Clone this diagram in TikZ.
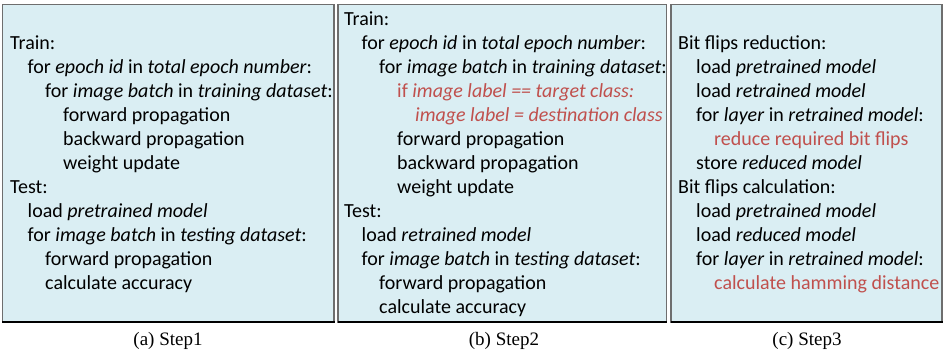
\documentclass[tikz,border=0pt]{standalone}
\usepackage{fontspec}
\setmainfont{Carlito}
\newfontfamily\capfont{Liberation Serif}
\definecolor{boxfill}{HTML}{DAEEF3}
\definecolor{redtxt}{HTML}{C0504D}
\definecolor{edgegray}{HTML}{6E6E6E}
\begin{document}
\begin{tikzpicture}[x=1pt,y=-1pt,
  panel/.style={fill=boxfill,draw=edgegray,line width=1.1pt},
  ln/.style={anchor=base west,inner sep=0pt,font=\fontsize{20}{22}\selectfont},
  rd/.style={ln,text=redtxt},
  captext/.style={anchor=base,inner sep=0pt,font=\capfont\fontsize{19}{21}\selectfont}]
\useasboundingbox (0,0) rectangle (943,351);
% panels
\draw[panel] (2.5,4.5) rectangle (334,322);
\draw[panel] (338,4.5) rectangle (666.5,322);
\draw[panel] (671,4.5) rectangle (942,322);
\draw[black,line width=1.1pt] (2,322) -- (334.5,322) (337.5,322) -- (667,322) (670.5,322) -- (942.5,322);
% panel a
\node[ln] (a1) at (10,49) {Train:};
\node[ln] (a2) at (27.5,73) {for \textit{epoch id} in \textit{total epoch number}:};
\node[ln] (a3) at (45,97) {for \textit{image batch} in \textit{training dataset}:};
\node[ln] (a4) at (63,121) {forward propagation};
\node[ln] (a5) at (63,145) {backward propagation};
\node[ln] (a6) at (63,169) {weight update};
\node[ln] (a7) at (10,193) {Test:};
\node[ln] (a8) at (27.5,217) {load \textit{pretrained model}};
\node[ln] (a9) at (27.5,241) {for \textit{image batch} in \textit{testing dataset}:};
\node[ln] (a10) at (45,265) {forward propagation};
\node[ln] (a11) at (45,289) {calculate accuracy};
% panel b
\node[ln] (b1) at (344,25) {Train:};
\node[ln] (b2) at (361.5,49) {for \textit{epoch id} in \textit{total epoch number}:};
\node[ln] (b3) at (379,73) {for \textit{image batch} in \textit{training dataset}:};
\node[rd] (b4) at (397,97) {if \textit{image label == target class:}};
\node[rd] (b5) at (415,121) {\textit{image label = destination class}};
\node[ln] (b6) at (397,145) {forward propagation};
\node[ln] (b7) at (397,169) {backward propagation};
\node[ln] (b8) at (397,193) {weight update};
\node[ln] (b9) at (344,217) {Test:};
\node[ln] (b10) at (361.5,241) {load \textit{retrained model}};
\node[ln] (b11) at (361.5,265) {for \textit{image batch} in \textit{testing dataset}:};
\node[ln] (b12) at (379,289) {forward propagation};
\node[ln] (b13) at (379,313) {calculate accuracy};
% panel c
\node[ln] (c1) at (678,49) {Bit flips reduction:};
\node[ln] (c2) at (696,73) {load \textit{pretrained model}};
\node[ln] (c3) at (696,97) {load \textit{retrained model}};
\node[ln] (c4) at (696,121) {for \textit{layer} in \textit{retrained model}:};
\node[rd] (c5) at (714,145) {reduce required bit flips};
\node[ln] (c6) at (696,169) {store \textit{reduced model}};
\node[ln] (c7) at (678,193) {Bit flips calculation:};
\node[ln] (c8) at (696,217) {load \textit{pretrained model}};
\node[ln] (c9) at (696,241) {load \textit{reduced model}};
\node[ln] (c10) at (696,265) {for \textit{layer} in \textit{retrained model}:};
\node[rd] (c11) at (714,289) {calculate hamming distance};
% captions
\node[captext] (capa) at (168,345) {(a) Step1};
\node[captext] (capb) at (504,345) {(b) Step2};
\node[captext] (capc) at (807,345) {(c) Step3};
\end{tikzpicture}
\end{document}
